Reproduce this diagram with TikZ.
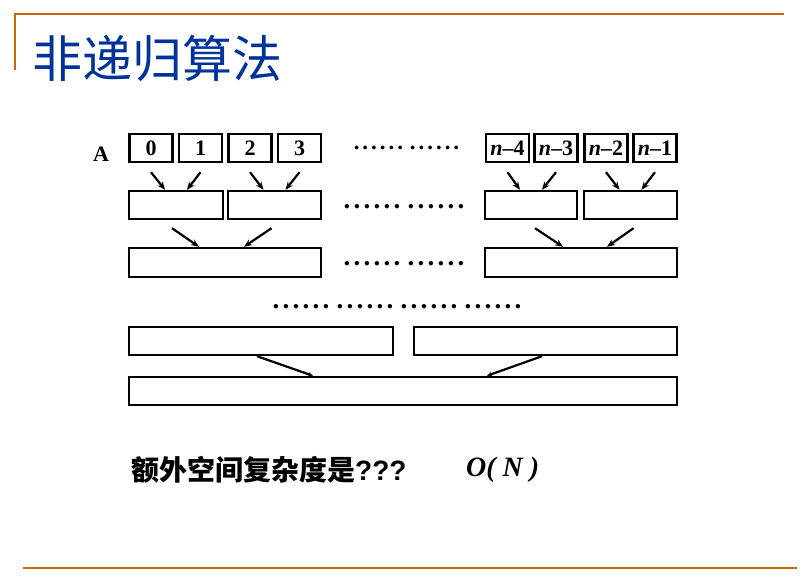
\documentclass[tikz,border=0pt]{standalone}
\usepackage{fontspec}
\setmainfont{Liberation Serif}
\newfontfamily\cjk{Noto Sans CJK SC}
\newfontfamily\qfont{Liberation Sans}
\usetikzlibrary{arrows.meta}
\definecolor{titleblue}{RGB}{0,51,153}
\definecolor{frameorange}{RGB}{204,102,0}
\newcommand{\dotgroup}[1]{\foreach \k in {1,...,6}{\makebox[#1]{.}}}

\begin{document}
\begin{tikzpicture}[
  x=1pt, y=-1pt,
  cell/.style={draw, line width=2.4pt, minimum width=43pt, minimum height=28pt, inner sep=0pt, font=\fontsize{22}{22}\selectfont\bfseries},
  run/.style={draw, line width=2.4pt, minimum height=28pt, inner sep=0pt},
  dots/.style={inner sep=0pt, font=\fontsize{27}{27}\selectfont\bfseries},
  link/.style={-{Stealth[length=8pt,width=6.5pt]}, line width=2.2pt}
]
\useasboundingbox (0,0) rectangle (811,577);
% frame
\draw[frameorange, line width=2.2pt] (15,70) -- (15,14) -- (784,14);
\draw[frameorange, line width=2.2pt] (23,568) -- (797,568);
\node[anchor=west, inner sep=0pt, text=titleblue, font=\cjk\fontsize{50}{50}\selectfont] (title) at (32,58) {非递归算法};
% array A
\node[font=\fontsize{22}{22}\selectfont\bfseries] (arr) at (101,154) {A};
\node[cell] (c0) at (151,148) {0};
\node[cell] (c1) at (200.5,148) {1};
\node[cell] (c2) at (250,148) {2};
\node[cell] (c3) at (299.5,148) {3};
\node[cell] (m4) at (507.5,148) {\textit{n}--4};
\node[cell] (m3) at (556,148) {\textit{n}--3};
\node[cell] (m2) at (606,148) {\textit{n}--2};
\node[cell] (m1) at (655,148) {\textit{n}--1};
\node[dots, font=\fontsize{23}{23}\selectfont\bfseries] (d1) at (406.5,148) {\dotgroup{8.7pt}\hspace{4pt}\dotgroup{8.7pt}};
% merged runs
\node[run, minimum width=94pt] (r2a) at (176,205) {};
\node[run, minimum width=93pt] (r2b) at (274.5,205) {};
\node[run, minimum width=92pt] (r2c) at (531,205) {};
\node[run, minimum width=93pt] (r2d) at (630.5,205) {};
\node[dots] (d2) at (404,207) {\dotgroup{10pt}\hspace{4pt}\dotgroup{10pt}};
\node[run, minimum width=192pt, minimum height=29pt] (r3a) at (225,262.5) {};
\node[run, minimum width=192pt, minimum height=29pt] (r3b) at (581,262.5) {};
\node[dots] (d3) at (404,264) {\dotgroup{10pt}\hspace{4pt}\dotgroup{10pt}};
\node[dots] (d4) at (397,307) {\dotgroup{10pt}\hspace{4pt}\dotgroup{10pt}\hspace{4pt}\dotgroup{10pt}\hspace{4pt}\dotgroup{10pt}};
\node[run, minimum width=264pt] (r4a) at (261,341) {};
\node[run, minimum width=263pt] (r4b) at (545.5,341) {};
\node[run, minimum width=548pt] (r5) at (403,391) {};
% arrows
\draw[link] ([yshift=-9pt]c0.south) -- ([xshift=-11pt]r2a.north);
\draw[link] ([yshift=-9pt]c1.south) -- ([xshift=11pt]r2a.north);
\draw[link] ([yshift=-9pt]c2.south) -- ([xshift=-11pt]r2b.north);
\draw[link] ([yshift=-9pt]c3.south) -- ([xshift=11pt]r2b.north);
\draw[link] ([yshift=-9pt]m4.south) -- ([xshift=-11pt]r2c.north);
\draw[link] ([yshift=-9pt]m3.south) -- ([xshift=11pt]r2c.north);
\draw[link] ([yshift=-9pt]m2.south) -- ([xshift=-11pt]r2d.north);
\draw[link] ([yshift=-9pt]m1.south) -- ([xshift=11pt]r2d.north);
\draw[link] ([xshift=-4pt, yshift=-8pt]r2a.south) -- ([xshift=-26pt]r3a.north);
\draw[link] ([xshift=-3pt, yshift=-8pt]r2b.south) -- ([xshift=19pt]r3a.north);
\draw[link] ([xshift=4pt, yshift=-8pt]r2c.south) -- ([xshift=-18pt]r3b.north);
\draw[link] ([xshift=3pt, yshift=-8pt]r2d.south) -- ([xshift=26pt]r3b.north);
\draw[link, -{Stealth[length=5pt,width=4pt]}] ([xshift=-4pt]r4a.south) -- ([xshift=-90pt]r5.north);
\draw[link, -{Stealth[length=5pt,width=4pt]}] ([xshift=-3.5pt]r4b.south) -- ([xshift=84pt]r5.north);
% question
\node[anchor=west, inner sep=0pt, font=\fontsize{28}{28}\selectfont] (question) at (131,470) {{\cjk\bfseries 额外空间复杂度是}{\qfont\bfseries ???}};
\node[anchor=west, inner sep=0pt, font=\bfseries\itshape\fontsize{28}{28}\selectfont] (answer) at (466,470) {O( N )};
\end{tikzpicture}
\end{document}
